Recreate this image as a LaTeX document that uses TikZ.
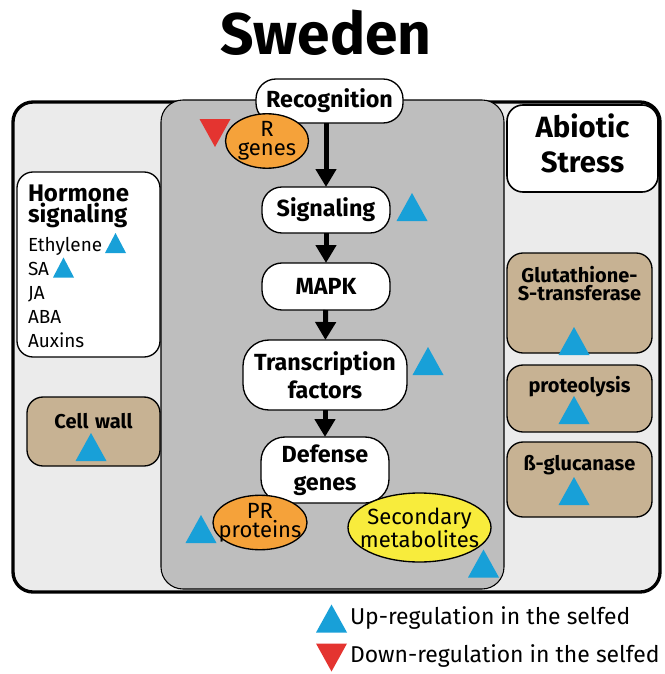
\documentclass[tikz,border=0pt]{standalone}
\usepackage{fontspec}
\setmainfont{Fira Sans}
\usetikzlibrary{shapes.geometric,arrows.meta,positioning}
\definecolor{outerfill}{RGB}{235,235,235}
\definecolor{corefill}{RGB}{190,190,190}
\definecolor{tanfill}{RGB}{199,178,147}
\definecolor{rorange}{RGB}{245,162,58}
\definecolor{syellow}{RGB}{248,236,60}
\definecolor{upblue}{RGB}{24,160,216}
\definecolor{dnred}{RGB}{228,52,48}
\newlength{\pxu}
\setlength{\pxu}{0.75pt}
\tikzset{
  upmark/.pic={\fill[upblue] (-15.5,14) -- (15.5,14) -- (0,-14) -- cycle;},
  smallup/.pic={\fill[upblue] (-10.5,10) -- (10.5,10) -- (0,-10) -- cycle;},
  dnmark/.pic={\fill[dnred] (-15.5,-14) -- (15.5,-14) -- (0,14) -- cycle;}
}
\begin{document}
\begin{tikzpicture}[x=0.75pt,y=-0.75pt]
    \tikzstyle{every node}+=[inner sep=0pt, outer sep=0pt]
    \tikzstyle{stepbox}=[draw, fill=white, line width=1pt, rounded corners=20\pxu, align=center, font=\fontsize{17.5}{21}\selectfont\bfseries]
    \tikzstyle{sidebox}=[draw, line width=1pt, rounded corners=16\pxu, anchor=north west, align=center, font=\fontsize{15}{14}\selectfont\bfseries]
    \tikzstyle{blob}=[draw, ellipse, line width=1pt, align=center, inner ysep=0pt, font=\fontsize{16.5}{14}\selectfont]
    \tikzstyle{flow}=[line width=3.75pt, -{Triangle[width=15pt,length=13.5pt]}]
    \useasboundingbox (0,0) rectangle (664,674);
    % title
    \node (title) at (326,33) {\fontsize{44}{50}\selectfont\bfseries Sweden};
    % panels
    \draw [line width=2.5pt, fill=outerfill, rounded corners=20\pxu] (13,102) rectangle (660,592);
    \draw [line width=0.8pt, fill=corefill, rounded corners=22\pxu] (161,100) rectangle (504,589);
    % left column
    \node [sidebox, fill=white, minimum width=143\pxu, minimum height=185\pxu, align=left, font=\fontsize{14.2}{18}\selectfont, text height=29\pxu, text depth=156\pxu, inner xsep=11\pxu, text width=121\pxu] (horm) at (17,172)
      {\textbf{\fontsize{18}{18}\selectfont Hormone}\\[-2pt]\textbf{\fontsize{18}{18}\selectfont signaling}\\[4pt]Ethylene\\SA\\JA\\ABA\\Auxins};
    \pic at (115.5,243) {smallup};
    \pic at (63.5,267.5) {smallup};
    \node [sidebox, fill=tanfill, minimum width=133\pxu, text height=31\pxu, text depth=38\pxu, text width=133\pxu] (cw) at (27,397) {Cell wall};
    \pic at (91,447) {upmark};
    % right column
    \node [sidebox, fill=white, line width=1.2pt, minimum width=151\pxu, text height=32\pxu, text depth=55\pxu, text width=151\pxu, font=\fontsize{22}{26.5}\selectfont\bfseries] (abio) at (507,105) {Abiotic\\Stress};
    \node [sidebox, fill=tanfill, minimum width=145\pxu, text height=29\pxu, text depth=71\pxu, text width=145\pxu] (gst) at (507,253) {Glutathione-\\S-transferase};
    \pic at (574,341) {upmark};
    \node [sidebox, fill=tanfill, minimum width=145\pxu, text height=27\pxu, text depth=40\pxu, text width=145\pxu] (prot) at (507,365) {proteolysis};
    \pic at (574,410) {upmark};
    \node [sidebox, fill=tanfill, minimum width=145\pxu, text height=28\pxu, text depth=47\pxu, text width=145\pxu] (gluc) at (507,442) {ß-glucanase};
    \pic at (574,491) {upmark};
    % pathway
    \node [stepbox, minimum width=147\pxu, minimum height=44\pxu] (rec) at (329.5,101) {Recognition};
    \node [stepbox, minimum width=128\pxu, minimum height=46\pxu] (sig) at (326,210) {Signaling};
    \node [stepbox, minimum width=128\pxu, minimum height=47\pxu] (mapk) at (326,286.5) {MAPK};
    \node [stepbox, minimum width=164\pxu, minimum height=70\pxu, rounded corners=26\pxu] (tf) at (325,375) {Transcription\\factors};
    \node [stepbox, minimum width=128\pxu, minimum height=66\pxu, rounded corners=24\pxu] (def) at (325,470) {Defense\\genes};
    \draw [flow] (rec.south -| sig.north) -- (sig.north);
    \draw [flow] (sig) -- (mapk);
    \draw [flow] (mapk) -- (tf);
    \draw [flow] (tf) -- (def);
    \pic at (412,207) {upmark};
    \pic at (428,361) {upmark};
    % gene products
    \node [blob, fill=rorange, minimum width=83\pxu, minimum height=50\pxu, inner xsep=-4\pxu] (rgen) at (267,141) {R\\genes};
    \pic at (215,133) {dnmark};
    \node [blob, fill=rorange, minimum width=94\pxu, minimum height=51\pxu, inner xsep=-12\pxu] (pr) at (260,522.5) {PR\\proteins};
    \pic at (201,529) {upmark};
    \node [blob, fill=syellow, minimum width=143\pxu, minimum height=69\pxu, inner xsep=-14\pxu] (sec) at (419.5,527.5) {Secondary\\metabolites};
    \pic at (483.5,563.5) {upmark};
    % legend
    \pic at (331.5,618.5) {upmark};
    \node [anchor=west, font=\fontsize{17.2}{20}\selectfont] (upleg) at (350,618) {Up-regulation in the selfed};
    \pic at (331.5,657.5) {dnmark};
    \node [anchor=west, font=\fontsize{17.2}{20}\selectfont] (dnleg) at (350,656) {Down-regulation in the selfed};
\end{tikzpicture}
\end{document}
